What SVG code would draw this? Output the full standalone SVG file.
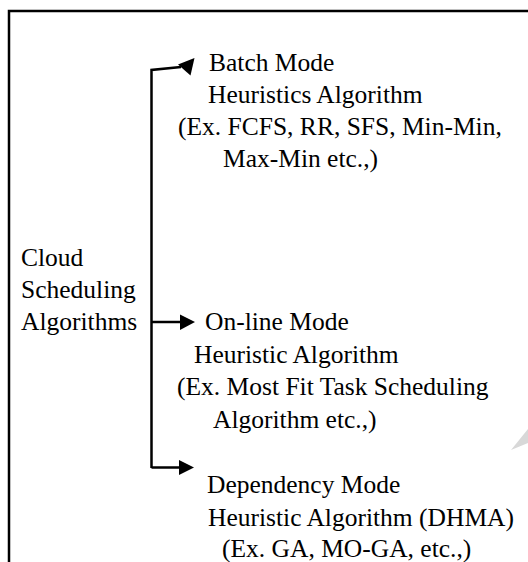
<svg xmlns="http://www.w3.org/2000/svg" width="528" height="562" viewBox="0 0 528 562">
<style>
text{font-family:"Liberation Serif","Times New Roman",serif;font-size:25.5px;fill:#000}
.ln{stroke:#000;stroke-width:2.5;fill:none}
.ah{fill:#000}
</style>
<rect width="528" height="562" fill="#fff"/>
<g id="frame">
<path class="ln" d="M9,562 V11 H528"/>
</g>
<g id="connectors">
<path class="ln" d="M151.5,468 V70 L181,67"/>
<polygon class="ah" points="178,64.5 194.5,58 190.5,75.5"/>
<path class="ln" d="M151.5,322 H182"/>
<polygon class="ah" points="180,314.5 195,322 180,330"/>
<path class="ln" d="M151.5,467.5 H181"/>
<polygon class="ah" points="179,460 194,467.5 179,475"/>
</g>
<g id="root">
<text x="21" y="266">Cloud</text>
<text x="21" y="298">Scheduling</text>
<text x="21" y="330">Algorithms</text>
</g>
<g id="batch">
<text x="209" y="71">Batch Mode</text>
<text x="208" y="103">Heuristics Algorithm</text>
<text x="178" y="135">(Ex. FCFS, RR, SFS, Min-Min,</text>
<text x="223" y="167">Max-Min etc.,)</text>
</g>
<g id="online">
<text x="205" y="330">On-line Mode</text>
<text x="194" y="363">Heuristic Algorithm</text>
<text x="177" y="395">(Ex. Most Fit Task Scheduling</text>
<text x="213" y="428">Algorithm etc.,)</text>
</g>
<g id="dependency">
<text x="207" y="493">Dependency Mode</text>
<text x="208" y="526">Heuristic Algorithm (DHMA)</text>
<text x="222" y="557">(Ex. GA, MO-GA, etc.,)</text>
</g>
<polygon points="511,450 528,429 528,443" fill="#d8d8d8"/>
</svg>
